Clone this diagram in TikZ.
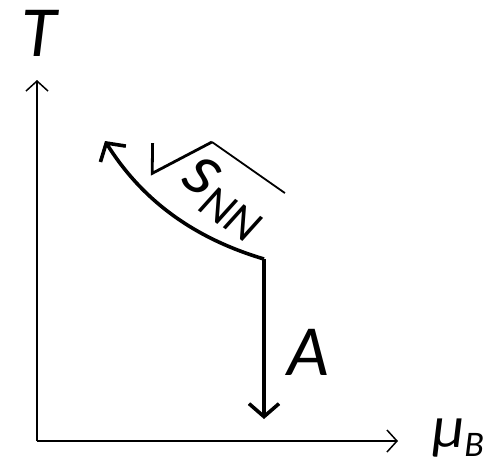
\documentclass[tikz,border=0pt]{standalone}
\usepackage{fontspec}
\setmainfont{Carlito}
\usetikzlibrary{arrows.meta}
\tikzset{
  axis/.style={line width=1.5pt,-{Straight Barb[length=10pt,width=22pt]}},
  flow/.style={line width=3.6pt,-{Straight Barb[length=13pt,width=30pt]}},
  biglbl/.style={inner sep=0pt,font=\fontsize{72}{80}\selectfont\itshape},
}
\begin{document}
\begin{tikzpicture}[x=1pt,y=-1pt]
        \useasboundingbox (0,0) rectangle (500,464);
        %assi
        \coordinate (O) at (37,441);
        \coordinate (Ttop) at (37,80);
        \coordinate (Mright) at (398,441);
        \draw[axis] (O) -- (Ttop);
        \draw[axis] (O) -- (Mright);
        %label assi
        \node[biglbl] (T) at (39,33) {T};
        \node[inner sep=0pt,anchor=base west,font=\fontsize{60}{66}\selectfont\itshape] (muB) at (432,447)
            {μ\raisebox{-9pt}{\fontsize{36}{38}\selectfont B}};
        %percorsi
        \coordinate (knee) at (264,259);
        \coordinate (tip) at (105,141);
        \coordinate (bottom) at (264,419);
        \draw[flow] (knee) .. controls (200,240) and (145,205) .. (tip);
        \draw[flow] (knee) -- (bottom);
        \node[biglbl] (A) at (308,352) {A};
        %radice
        \begin{scope}[shift={(212,142)},rotate=-35]
            \draw[line width=2.8pt,line join=miter] (-48,35) -- (-31,60) -- (0,0);
            \draw[line width=1.8pt] (0,0) -- (89,0);
            \node[inner sep=0pt,anchor=base west,rotate=-35,font=\fontsize{76}{80}\selectfont\itshape] (sNN) at (-4,52)
                {s\raisebox{-12pt}{\fontsize{48}{50}\selectfont NN}};
        \end{scope}
\end{tikzpicture}
\end{document}
